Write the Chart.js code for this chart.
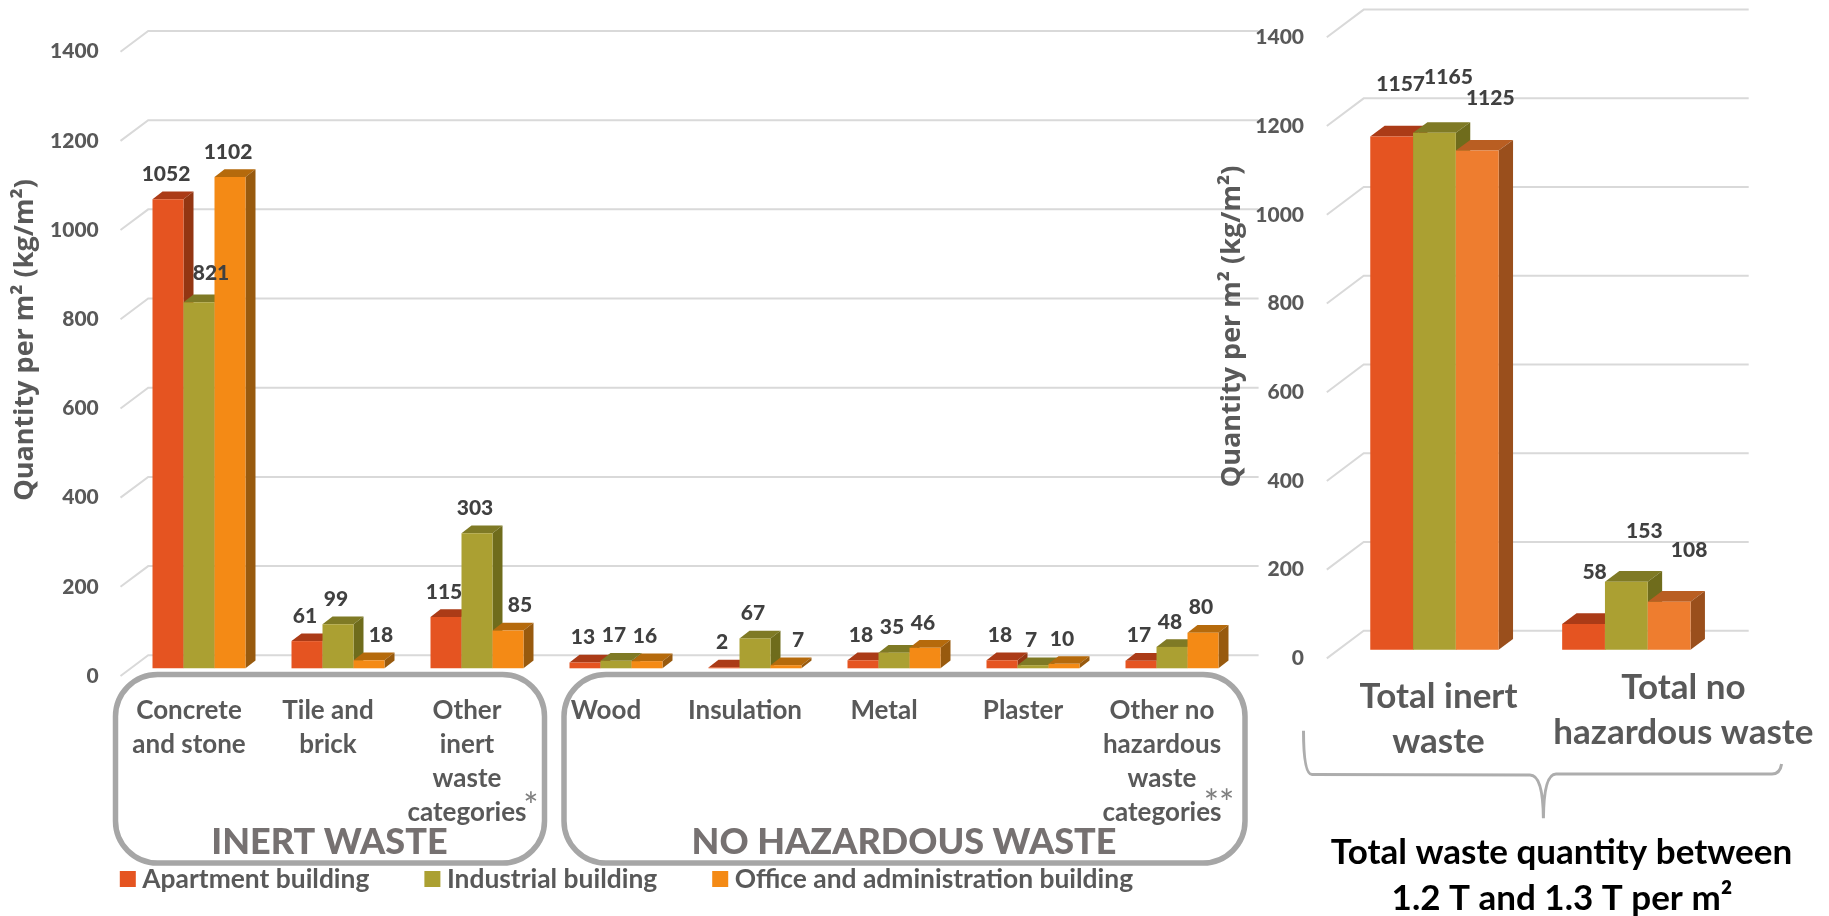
<!DOCTYPE html>
<html>
<head>
<meta charset="utf-8">
<title>Waste quantity per m2</title>
<script src="https://cdn.jsdelivr.net/npm/chart.js@4"></script>
<style>
  body { margin: 0; background: #fff; }
  canvas { position: absolute; left: 0; top: 0; }
</style>
</head>
<body>
<canvas id="graficoDetalle" width="1829" height="916"></canvas>
<canvas id="graficoTotal" width="1829" height="916"></canvas>
<script>
const seriesNames = ["Apartment building", "Industrial building", "Office and administration building"];

const categories = [
  ["Concrete", "and stone"], ["Tile and", "brick"], ["Other", "inert", "waste", "categories"],
  ["Wood"], ["Insulation"], ["Metal"], ["Plaster"],
  ["Other no", "hazardous", "waste", "categories"]
];
const apartment = [1052, 61, 115, 13, 2, 18, 18, 17];
const industrial = [821, 99, 303, 17, 67, 35, 7, 48];
const office = [1102, 18, 85, 16, 7, 46, 10, 80];

const totalCategories = [["Total inert", "waste"], ["Total no", "hazardous waste"]];
const totalApartment = [1157, 58];
const totalIndustrial = [1165, 153];
const totalOffice = [1125, 108];

const labelFont = "Lato, sans-serif";
const textGrey = "#595959";
const dataGrey = "#404040";
const gridGrey = "#d9d9d9";

const frontDetail = ["#e55421", "#aba032", "#f48a15"];
const frontTotal = ["#e55421", "#aba032", "#ee7d2f"];
const topDetail = ["#ab3b17", "#7f7a25", "#b56a0c"];
const topTotal = ["#ab3b17", "#7f7a25", "#b95e22"];
const sideDetail = ["#933612", "#6f6c1c", "#985a0e"];
const sideTotal = ["#933612", "#6f6c1c", "#9a4f1c"];

function putText(ctx, txt, x, y, font, color, align) {
  ctx.font = font;
  ctx.fillStyle = color;
  ctx.textAlign = align || "center";
  ctx.textBaseline = "middle";
  ctx.fillText(txt, x, y);
}

// the 3D look: floor/wall lines, then bars left to right so the nearer faces cover the others
function fake3d(cfg) {
  return {
    id: "fake3d",
    beforeDatasetsDraw(chart) {
      const ctx = chart.ctx;
      const yScale = chart.scales.y;
      const area = chart.chartArea;

      ctx.save();
      ctx.strokeStyle = gridGrey;
      ctx.lineWidth = 2;
      yScale.ticks.forEach(t => {
        const py = yScale.getPixelForValue(t.value);
        const sx = area.left - cfg.stubInset;
        ctx.beginPath();
        ctx.moveTo(sx, py);
        ctx.lineTo(sx + cfg.wall[0], py - cfg.wall[1]);
        ctx.lineTo(cfg.gridEnd, py - cfg.wall[1]);
        ctx.stroke();
      });
      ctx.restore();

      chart.data.datasets.forEach((ds, di) => {
        chart.getDatasetMeta(di).data.forEach(el => {
          const left = el.x - el.width / 2;
          const right = el.x + el.width / 2;
          const top = el.y - cfg.lift;
          const base = el.base - cfg.lift;
          const dx = cfg.depth[0];
          const dy = cfg.depth[1];

          ctx.fillStyle = cfg.top[di];
          ctx.beginPath();
          ctx.moveTo(left, top);
          ctx.lineTo(right, top);
          ctx.lineTo(right + dx, top - dy);
          ctx.lineTo(left + dx, top - dy);
          ctx.closePath();
          ctx.fill();

          ctx.fillStyle = cfg.side[di];
          ctx.beginPath();
          ctx.moveTo(right, top);
          ctx.lineTo(right + dx, top - dy);
          ctx.lineTo(right + dx, base - dy);
          ctx.lineTo(right, base);
          ctx.closePath();
          ctx.fill();

          ctx.save();
          ctx.translate(0, -cfg.lift);
          el.draw(ctx);
          ctx.restore();
        });
      });

      chart.data.datasets.forEach((ds, di) => {
        chart.getDatasetMeta(di).data.forEach((el, i) => {
          const off = cfg.labelOffset(ds.data, di, i, chart);
          putText(ctx, String(ds.data[i]), el.x + off[0], el.y - cfg.lift + off[1], "900 21px " + labelFont, dataGrey);
        });
      });
      return false;
    }
  };
}

function detailLabelOffset(values, di, i, chart) {
  // a label that would land on the taller bar to its left is pushed to the right
  if (di > 0 && chart.data.datasets[di - 1].data[i] - values[i] > 50) {
    return [12, values[i] > 500 ? -29 : -25];
  }
  return [-2, -25];
}

const totalDx = [[9, 11], [14, 18], [13, 20]];
const totalDy = [[-52, -52], [-56, -51], [-52, -52]];
function totalLabelOffset(values, di, i) {
  return [totalDx[di][i], totalDy[di][i]];
}

const detailExtras = {
  id: "detailExtras",
  afterDraw(chart) {
    const ctx = chart.ctx;
    ctx.save();
    ctx.strokeStyle = "#a6a6a6";
    ctx.lineWidth = 5.5;
    ctx.beginPath();
    ctx.roundRect(115.5, 674.5, 429, 188.5, 42);
    ctx.stroke();
    ctx.beginPath();
    ctx.roundRect(564, 674.5, 681, 188.5, 42);
    ctx.stroke();

    putText(ctx, "INERT WASTE", 329.4, 842, "900 36px " + labelFont, "#767171");
    putText(ctx, "NO HAZARDOUS WASTE", 904, 842, "900 36px " + labelFont, "#767171");
    putText(ctx, "*", 531, 807, "36px " + labelFont, "#7f7f7f");
    putText(ctx, "**", 1219, 804, "36px " + labelFont, "#7f7f7f");

    // legend row under the boxes, built from the datasets
    const legendFont = "bold 26.4px " + labelFont;
    let lx = 119.8;
    chart.data.datasets.forEach(ds => {
      ctx.fillStyle = ds.backgroundColor;
      ctx.fillRect(lx, 871, 16, 16);
      putText(ctx, ds.label, lx + 22.5, 879, legendFont, textGrey, "left");
      lx += 22.5 + ctx.measureText(ds.label).width + 55;
    });

    ctx.translate(25, 340);
    ctx.rotate(-Math.PI / 2);
    putText(ctx, "Quantity per m² (kg/m²)", 0, 0, "bold 27px 'Open Sans', sans-serif", textGrey);
    ctx.restore();
  }
};

const totalExtras = {
  id: "totalExtras",
  afterDraw(chart) {
    const ctx = chart.ctx;
    const xScale = chart.scales.x;
    const font = "bold 35px " + labelFont;
    ctx.save();

    const names = chart.data.labels;
    names[0].forEach((line, n) => {
      putText(ctx, line, xScale.getPixelForTick(0) + 4, 697 + n * 44.7, font, textGrey);
    });
    names[1].forEach((line, n) => {
      putText(ctx, line, xScale.getPixelForTick(1) + 57, 688 + n * 44.7, font, textGrey);
    });

    ctx.strokeStyle = "#adadad";
    ctx.lineWidth = 3;
    ctx.beginPath();
    ctx.moveTo(1303.5, 730.7);
    ctx.quadraticCurveTo(1303.5, 774.5, 1312, 774.5);
    ctx.lineTo(1530, 775);
    ctx.quadraticCurveTo(1543, 775, 1543.4, 818.3);
    ctx.quadraticCurveTo(1543.8, 774, 1556, 774);
    ctx.lineTo(1772, 774);
    ctx.quadraticCurveTo(1780, 774, 1781.6, 764);
    ctx.stroke();

    putText(ctx, "Total waste quantity between", 1561.5, 853, "bold 35px " + labelFont, "#000");
    putText(ctx, "1.2 T and 1.3 T per m²", 1562, 899, "bold 35px " + labelFont, "#000");

    ctx.translate(1232, 326.5);
    ctx.rotate(-Math.PI / 2);
    putText(ctx, "Quantity per m² (kg/m²)", 0, 0, "bold 27px 'Open Sans', sans-serif", textGrey);
    ctx.restore();
  }
};

function makeDatasets(rows, colors) {
  return rows.map((row, k) => ({
    label: seriesNames[k],
    data: row,
    backgroundColor: colors[k],
    categoryPercentage: 0.669,
    barPercentage: 1
  }));
}

function yAxis(width, labelGap) {
  return {
    min: 0,
    max: 1400,
    afterFit: s => { s.width = width; },
    // gap goes in tickLength: a big ticks.padding would also push the top of the plot down
    grid: { display: false, drawTicks: true, tickLength: labelGap },
    border: { display: false },
    ticks: {
      stepSize: 200,
      padding: 0,
      color: textGrey,
      font: { family: labelFont, weight: "900", size: 21 },
      callback: v => String(v)
    }
  };
}

new Chart(document.getElementById("graficoDetalle"), {
  type: "bar",
  data: {
    labels: categories,
    datasets: makeDatasets([apartment, industrial, office], frontDetail)
  },
  options: {
    responsive: false,
    animation: false,
    events: [],
    layout: { autoPadding: false, padding: { top: 51.7, right: 587.5, left: 0, bottom: 0 } },
    scales: {
      x: {
        afterFit: s => { s.height = 916 - 676; },
        grid: { display: false, drawTicks: false },
        border: { display: false },
        ticks: {
          autoSkip: false,
          maxRotation: 0,
          minRotation: 0,
          padding: 17,
          labelOffset: -10,
          color: textGrey,
          font: { family: labelFont, weight: "bold", size: 26, lineHeight: "34.3px" }
        }
      },
      y: yAxis(129.5, 30.7)
    },
    plugins: {
      tooltip: { enabled: false },
      legend: { display: false }
    }
  },
  plugins: [fake3d({
    lift: 7.7, depth: [10, 7.7], wall: [27.7, 20.7], stubInset: 9, gridEnd: 1258.6,
    top: topDetail, side: sideDetail, labelOffset: detailLabelOffset
  }), detailExtras]
});

new Chart(document.getElementById("graficoTotal"), {
  type: "bar",
  data: {
    labels: totalCategories,
    datasets: makeDatasets([totalApartment, totalIndustrial, totalOffice], frontTotal)
  },
  options: {
    responsive: false,
    animation: false,
    events: [],
    layout: { autoPadding: false, padding: { top: 37.3, right: 106.7, left: 0, bottom: 0 } },
    scales: {
      x: {
        afterFit: s => { s.height = 916 - 658.4; },
        grid: { display: false, drawTicks: false },
        border: { display: false },
        ticks: { display: false }
      },
      y: yAxis(1338.5, 34.5)
    },
    plugins: {
      tooltip: { enabled: false },
      legend: { display: false }
    }
  },
  plugins: [fake3d({
    lift: 8.7, depth: [14.4, 10.7], wall: [36.9, 27.7], stubInset: 11.7, gridEnd: 1748.7,
    top: topTotal, side: sideTotal, labelOffset: totalLabelOffset
  }), totalExtras]
});
</script>
</body>
</html>
